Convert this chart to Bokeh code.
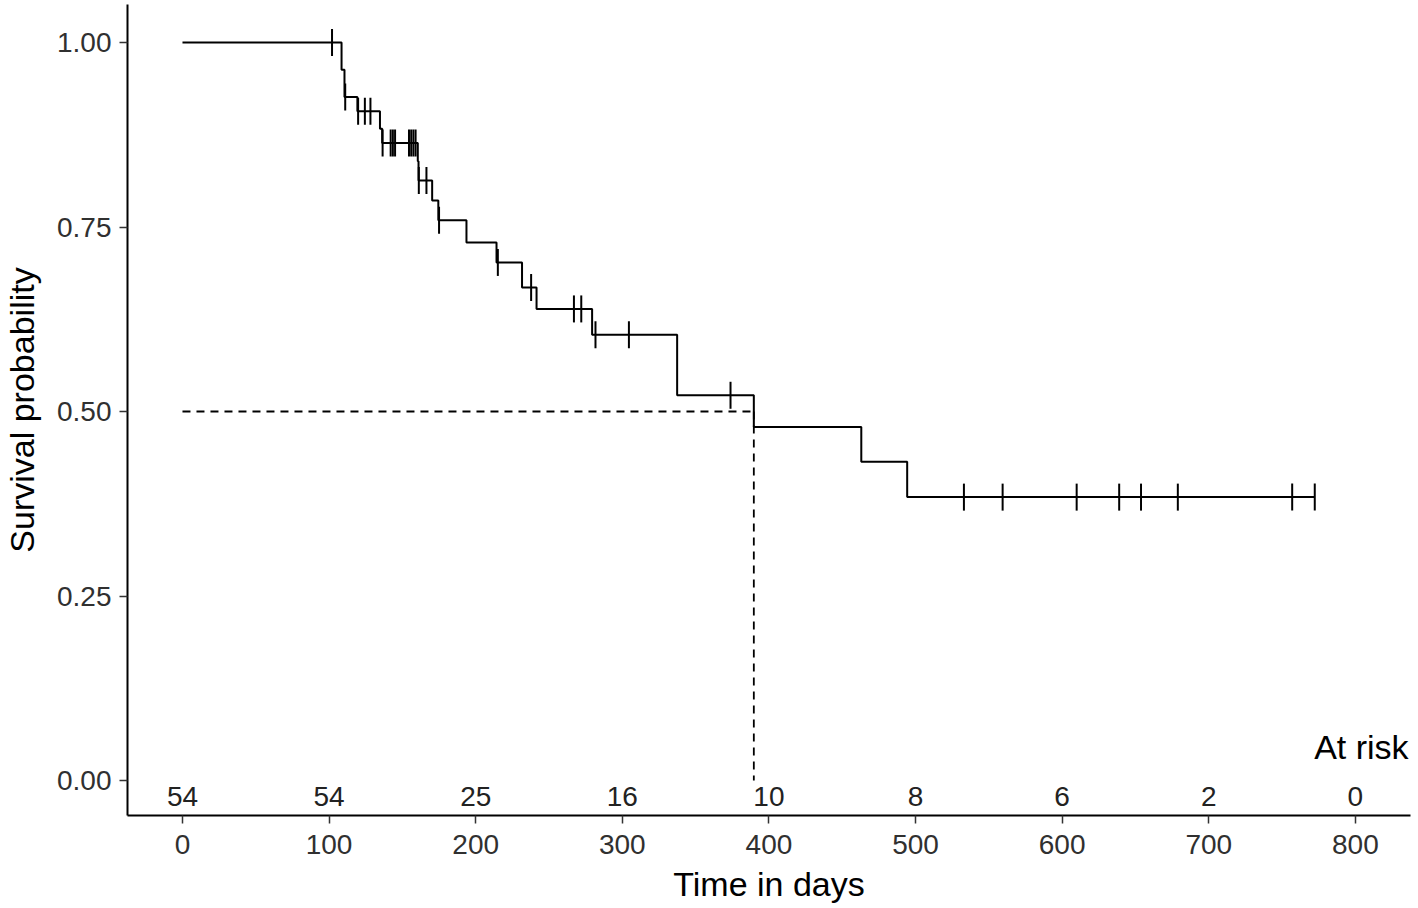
import math
import numpy as np
from bokeh.plotting import figure
from bokeh.models import Range1d, FixedTicker, NumeralTickFormatter, ColumnDataSource
from bokeh.core.properties import value
from bokeh.embed import file_html
from bokeh.resources import INLINE

# ---- data ----
step_times = [0, 108.5, 110.5, 119.3, 134.7, 136.2, 160.5, 161.0, 170.3, 174.5,
              193.7, 214.2, 231.6, 241.5, 279.4, 337.4, 389.7, 463.0, 494.3]
step_surv = [1.000, 0.963, 0.926, 0.907, 0.883, 0.864, 0.839, 0.813, 0.786, 0.759,
             0.729, 0.702, 0.668, 0.639, 0.604, 0.522, 0.479, 0.432, 0.384]
censor_times = [102, 111, 119.8, 124.4, 128.2, 136.5, 142, 143.5, 145,
                154.5, 156, 157.5, 159, 161.2, 166.4, 175, 215.1, 237.8,
                267, 272, 281.7, 304.5, 373.8, 533.0, 559.4, 609.9, 638.9,
                653.8, 678.9, 756.9, 772.3]
median_time = 389.7
median_surv = 0.5
risk_times = [0, 100, 200, 300, 400, 500, 600, 700, 800]
risk_counts = ["54", "54", "25", "16", "10", "8", "6", "2", "0"]
x_ticks = [0, 100, 200, 300, 400, 500, 600, 700, 800]
y_ticks = [0.0, 0.25, 0.5, 0.75, 1.0]

FONT = "Liberation Sans"

p = figure(width=1418, height=908, output_backend="svg", toolbar_location=None,
           x_range=Range1d(-37.5, 837.6), y_range=Range1d(-0.0474, 1.0515),
           min_border_left=127, min_border_right=8, min_border_top=4,
           min_border_bottom=93)
p.outline_line_color = None
p.xgrid.visible = False
p.ygrid.visible = False
p.background_fill_color = "white"
p.border_fill_color = "white"

# step curve, extended to the last follow-up time
st = list(step_times) + [max(censor_times)]
ss = list(step_surv) + [step_surv[-1]]
p.step(st, ss, mode="after", line_color="black", line_width=2)

# censor marks on the curve
idx = np.searchsorted(np.array(step_times), np.array(censor_times), side="right") - 1
cy = [step_surv[i] for i in idx]
p.scatter(censor_times, cy, marker="dash", angle=math.pi / 2, size=27,
          line_color="black", line_width=2)

# median survival guide lines
p.line([0, median_time], [median_surv, median_surv], line_color="black",
       line_width=1.8, line_dash="8 6")
p.line([median_time, median_time], [median_surv, 0], line_color="black",
       line_width=1.8, line_dash="8 6")

# at-risk table inside the plot
src = ColumnDataSource(dict(x=risk_times, y=[-0.021] * len(risk_times), t=risk_counts))
p.text(x="x", y="y", text="t", source=src, text_align="center",
       text_baseline="middle", text_font=value(FONT), text_font_size="28px",
       text_color="#222222")
p.text(x=[836.3], y=[0.045], text=["At risk"], text_align="right",
       text_baseline="middle", text_font=value(FONT), text_font_size="34px",
       text_color="black")

# axes
for ax in (p.xaxis[0], p.yaxis[0]):
    ax.axis_line_color = "black"
    ax.axis_line_width = 2
    ax.major_tick_line_color = "#333333"
    ax.major_tick_line_width = 1.5
    ax.major_tick_out = 8
    ax.major_tick_in = 0
    ax.minor_tick_line_color = None
    ax.major_label_text_font = FONT
    ax.major_label_text_font_size = "28px"
    ax.major_label_text_color = "#303030"
    ax.axis_label_text_font = FONT
    ax.axis_label_text_font_size = "34px"
    ax.axis_label_text_font_style = "normal"
    ax.axis_label_text_color = "black"

p.xaxis.ticker = FixedTicker(ticks=x_ticks)
p.yaxis.ticker = FixedTicker(ticks=y_ticks)
p.yaxis.formatter = NumeralTickFormatter(format="0.00")
p.xaxis.axis_label = "Time in days"
p.yaxis.axis_label = "Survival probability"
p.xaxis.major_label_standoff = 11
p.xaxis.axis_label_standoff = 8
p.yaxis.major_label_standoff = 8
p.yaxis.axis_label_standoff = 13

open("out.html", "w").write(file_html(p, INLINE))
